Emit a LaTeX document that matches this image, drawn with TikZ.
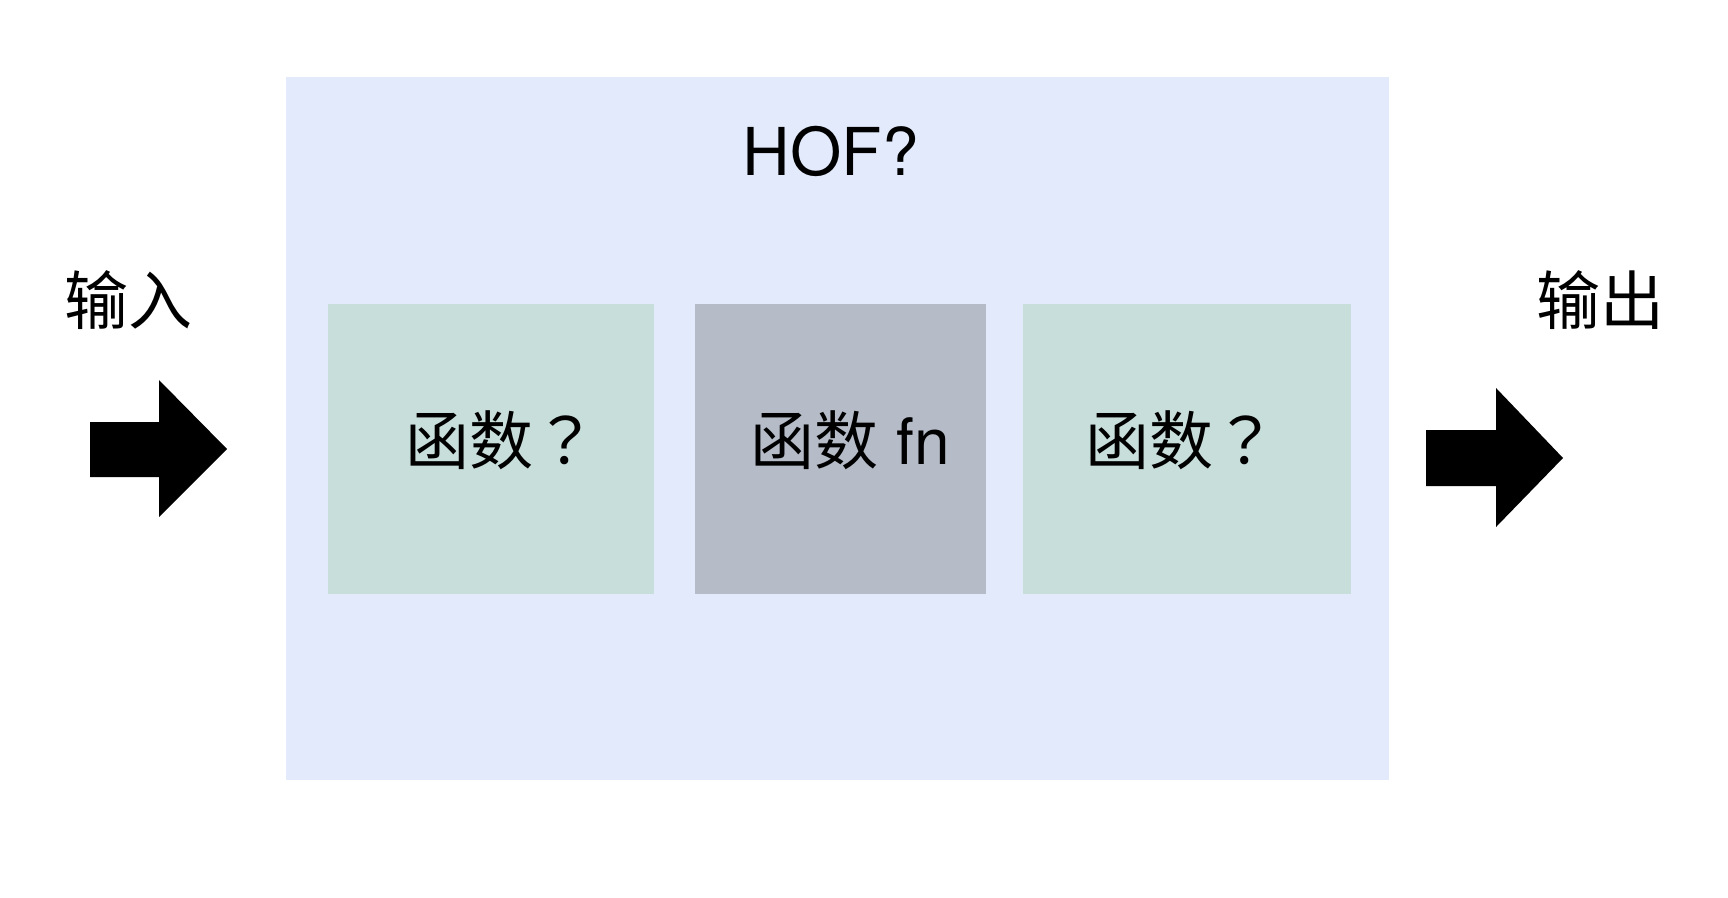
\documentclass[tikz,border=0pt]{standalone}
\usepackage{fontspec}
\setmainfont{TeX Gyre Heros}
\newfontfamily\cjk{Noto Sans CJK SC}
\newfontfamily\cjktc{Noto Sans CJK TC}
\definecolor{hofbg}{HTML}{E2EAFB}
\definecolor{fgreen}{HTML}{C8DEDB}
\definecolor{fgray}{HTML}{B5BCC8}
\begin{document}
\begin{tikzpicture}[x=0.5pt,y=-0.5pt,
  panel/.style={draw=none,inner sep=0pt,outer sep=0pt},
  label/.style={inner sep=0pt,font=\fontsize{32pt}{36pt}\selectfont},
  blockarrow/.style={fill=black,draw=none}]
\useasboundingbox[fill=white] (0,0) rectangle (1728,898);
% outer HOF box
\fill[hofbg] (286,77) rectangle (1389,780);
\node[panel] (hofbox) at (837.5,428.5) {};
\node[label,font=\fontsize{33pt}{38pt}\selectfont] (hof) at (831,151) {HOF?};
% function boxes
\fill[fgreen] (328,304) rectangle (654,594);
\fill[fgray] (695,304) rectangle (986,594);
\fill[fgreen] (1023,304) rectangle (1351,594);
\node[panel] (f1) at (491,449) {};
\node[panel] (f2) at (840.5,449) {};
\node[panel] (f3) at (1187,449) {};
\node[label] (t1) at (501,440) {{\cjk 函数}{\cjktc ？}};
\node[label] (t2) at (850,440) {{\cjk 函数} fn};
\node[label] (t3) at (1181,440) {{\cjk 函数}{\cjktc ？}};
% input / output labels
\node[label] (in) at (128,300) {\cjk 输入};
\node[label] (out) at (1600,300) {\cjk 输出};
% block arrows
\fill[blockarrow] (90,422) -- (159,422) -- (159,380) -- (227,449) -- (159,517) -- (159,477) -- (90,477) -- cycle;
\fill[blockarrow] (1426,430) -- (1496,430) -- (1496,388) -- (1563,458) -- (1496,527) -- (1496,486) -- (1426,486) -- cycle;
\end{tikzpicture}
\end{document}
